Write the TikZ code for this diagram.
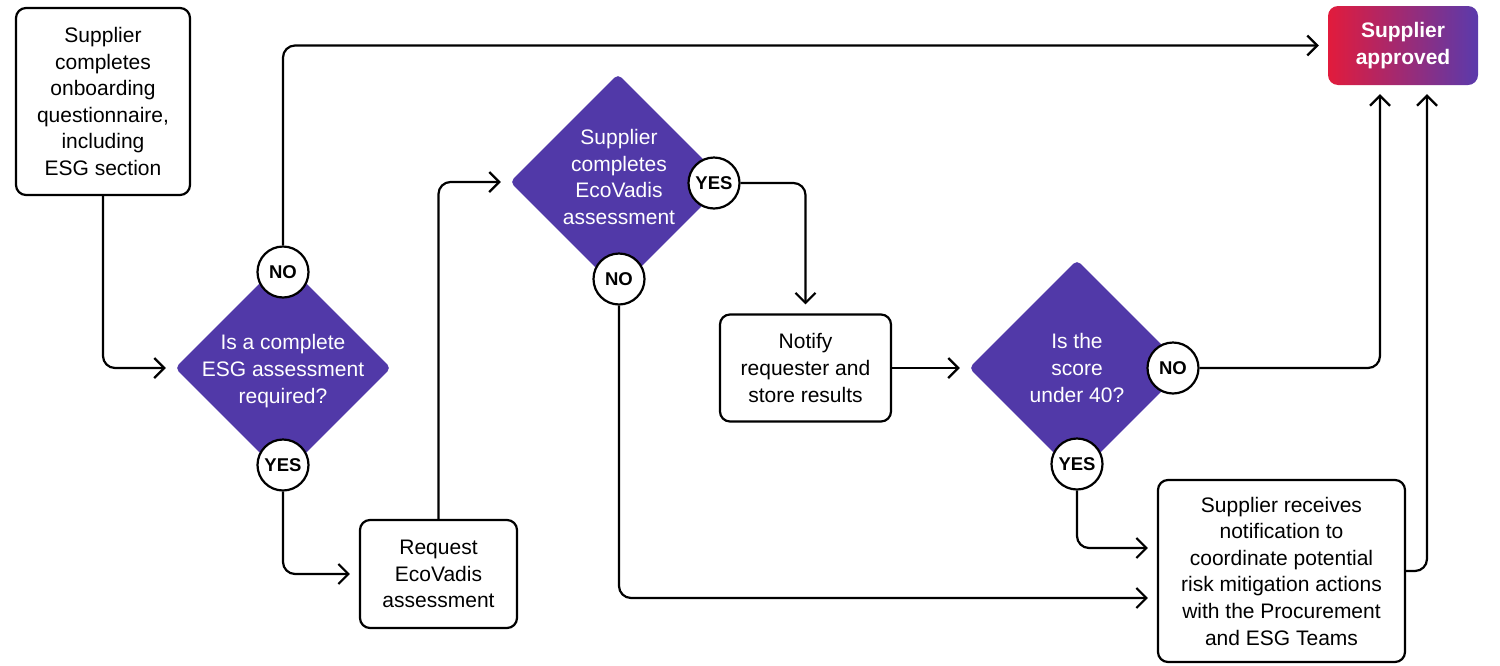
\documentclass[tikz,border=0pt]{standalone}
\usepackage{fontspec}
\setmainfont{Liberation Sans}
\usetikzlibrary{arrows.meta,shapes.geometric}
\definecolor{dpurple}{RGB}{81,57,168}
\definecolor{gred}{RGB}{226,27,60}
\definecolor{gpurple}{RGB}{90,58,172}
\begin{document}
\begin{tikzpicture}[x=1pt,y=-1pt,
  every node/.style={font=\fontsize{21}{26.6}\selectfont, align=center},
  box/.style={draw, line width=2.2pt, rounded corners=10pt, inner sep=0pt},
  dia/.style={diamond, fill=dpurple, rounded corners=5pt, minimum width=216pt, minimum height=216pt, inner sep=0pt},
  dtext/.style={text=white, inner sep=0pt},
  lbl/.style={circle, draw, line width=2.2pt, fill=white, minimum size=51pt, inner sep=0pt, font=\fontsize{18.5}{20}\selectfont\bfseries},
  conn/.style={line width=2.2pt, rounded corners=12pt},
  arr/.style={conn, -{Straight Barb[length=10pt,width=20pt]}, shorten >=9pt},
]
\useasboundingbox (0,0) rectangle (1500,665);

\node[box, minimum width=174pt, minimum height=187pt] (A) at (103,101.5)
  {Supplier\\completes\\onboarding\\questionnaire,\\including\\ESG section};
\node[dia] (D1) at (283,368) {};
\node[dtext] (T1) at (283,371) {Is a complete\\ESG assessment\\required?};
\node[box, minimum width=157pt, minimum height=108pt] (B) at (438.5,574)
  {Request\\EcoVadis\\assessment};
\node[dia] (D2) at (618,182) {};
\node[dtext] (T2) at (619,177) {Supplier\\completes\\EcoVadis\\assessment};
\node[box, minimum width=171pt, minimum height=107pt] (C) at (805.5,368)
  {Notify\\requester and\\store results};
\node[dia] (D3) at (1077,368) {};
\node[dtext] (T3) at (1077,368) {Is the\\score\\under 40?};
\node[box, minimum width=247pt, minimum height=182pt] (E) at (1281.5,571)
  {Supplier receives\\notification to\\coordinate potential\\risk mitigation actions\\with the Procurement\\and ESG Teams};
\node[left color=gred, right color=gpurple, rounded corners=10pt, text=white,
  font=\fontsize{21}{26.6}\selectfont\bfseries, minimum width=150pt, minimum height=79pt, inner sep=0pt]
  (F) at (1403,45.5) {Supplier\\approved};

\draw[arr] (A.south) |- (D1.west);
\draw[arr] (B.north) |- (D2.west);
\draw[arr] (C.east) -- (D3.west);

\node[lbl] (no1) at (283,272) {NO};
\node[lbl] (yes1) at (283,465) {YES};
\node[lbl] (yes2) at (714,183) {YES};
\node[lbl] (no2) at (619,279) {NO};
\node[lbl] (no3) at (1173,368) {NO};
\node[lbl] (yes3) at (1077,464) {YES};

\draw[arr] (no1.north) |- (F.west);
\draw[arr] (yes1.south) |- (B.west);
\draw[arr] (yes2.east) -| (C.north);
\draw[arr] (no2.south) |- (E.west |- 0,598);
\draw[arr] (no3.east) -| ([xshift=-23pt]F.south);
\draw[arr] (yes3.south) |- (E.west |- 0,548);
\draw[arr] (E.east) -| ([xshift=24pt]F.south);
\end{tikzpicture}
\end{document}
